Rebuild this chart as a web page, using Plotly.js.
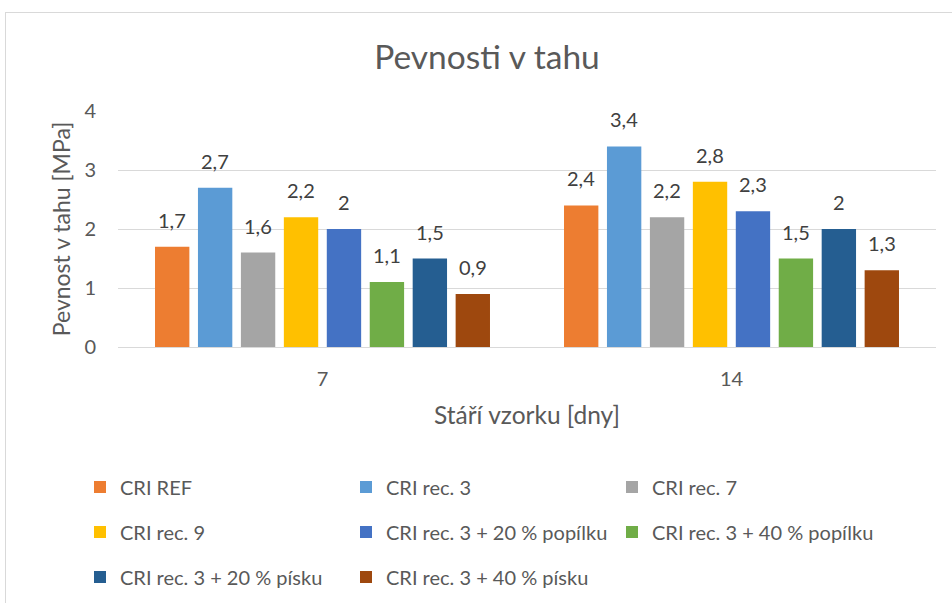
<!DOCTYPE html>
<html>
<head>
<meta charset="utf-8">
<script src="https://cdn.plot.ly/plotly-3.0.1.min.js"></script>
<style>
html,body{margin:0;padding:0;background:#fff;overflow:hidden;}
#wrap{position:relative;width:952px;height:603px;}
#chart{position:absolute;left:0;top:0;width:952px;height:603px;}
#frame{position:absolute;left:5px;top:12px;width:1000px;height:700px;border:1px solid #d9d9d9;pointer-events:none;}
</style>
</head>
<body>
<div id="wrap"><div id="chart"></div><div id="frame"></div></div>
<script>
const categories = ['7', '14'];
const seriesNames = ['CRI REF', 'CRI rec. 3', 'CRI rec. 7', 'CRI rec. 9',
  'CRI rec. 3 + 20 % popílku', 'CRI rec. 3 + 40 % popílku',
  'CRI rec. 3 + 20 % písku', 'CRI rec. 3 + 40 % písku'];
const criRef = [1.7, 2.4];
const criRec3 = [2.7, 3.4];
const criRec7 = [1.6, 2.2];
const criRec9 = [2.2, 2.8];
const rec3Popilek20 = [2.0, 2.3];
const rec3Popilek40 = [1.1, 1.5];
const rec3Pisek20 = [1.5, 2.0];
const rec3Pisek40 = [0.9, 1.3];
const yTicks = [0, 1, 2, 3, 4];

const seriesValues = [criRef, criRec3, criRec7, criRec9, rec3Popilek20, rec3Popilek40, rec3Pisek20, rec3Pisek40];
const colors = ['#ED7D31', '#5B9BD5', '#A5A5A5', '#FFC000', '#4472C4', '#70AD47', '#255E91', '#9E480E'];
const legendIds = ['legend', 'legend', 'legend', 'legend2', 'legend2', 'legend2', 'legend3', 'legend3'];
const FONT = 'Lato, "Open Sans", sans-serif';
const BARGAP = 0.16;

const traces = seriesValues.map((vals, i) => ({
  type: 'bar',
  name: seriesNames[i],
  x: categories,
  y: vals,
  marker: {color: colors[i], line: {width: 0}},
  legend: legendIds[i],
  hoverinfo: 'skip'
}));

// data labels as annotations placed through the axes' scales
const nSeries = seriesValues.length;
const slot = (1 - BARGAP) / nSeries;
const annotations = [];
seriesValues.forEach((vals, i) => {
  vals.forEach((v, c) => {
    annotations.push({
      xref: 'x', yref: 'y',
      x: c - (1 - BARGAP) / 2 + (i + 0.5) * slot,
      y: v,
      text: String(v).replace('.', ','),
      showarrow: false, xanchor: 'center', yanchor: 'bottom', yshift: 13,
      font: {family: FONT, size: 20, color: '#404040'}
    });
  });
});

const legendBase = {
  orientation: 'h', x: 80/952, xref: 'container', xanchor: 'left', yanchor: 'middle', yref: 'container',
  entrywidth: 221, entrywidthmode: 'pixels',
  font: {family: FONT, size: 20, color: '#595959'},
  bgcolor: 'rgba(0,0,0,0)', itemwidth: 30, traceorder: 'normal'
};

const layout = {
  width: 952, height: 603,
  paper_bgcolor: '#ffffff', plot_bgcolor: '#ffffff',
  margin: {l: 118, r: 16, t: 111, b: 256},
  font: {family: FONT, color: '#595959'},
  title: {text: 'Pevnosti v tahu', font: {family: FONT, size: 33.5, color: '#595959'},
          x: 487/952, xref: 'container', xanchor: 'center', y: 1 - 57/603, yanchor: 'middle', yref: 'container'},
  barmode: 'group', bargap: BARGAP, bargroupgap: 0.2,
  xaxis: {
    type: 'category', showgrid: false, zeroline: false, showline: false,
    ticks: 'outside', ticklen: 14, tickcolor: 'rgba(0,0,0,0)',
    tickfont: {family: FONT, size: 20, color: '#595959'},
    title: {text: 'Stáří vzorku [dny]', font: {family: FONT, size: 24.5, color: '#595959'}, standoff: 17}
  },
  yaxis: {
    range: [0, 4], tickvals: yTicks, ticktext: yTicks.map(String),
    showgrid: true, gridcolor: '#D9D9D9', gridwidth: 1,
    zeroline: true, zerolinecolor: '#D9D9D9', zerolinewidth: 1, showline: false,
    ticks: 'outside', ticklen: 17, tickcolor: 'rgba(0,0,0,0)',
    tickfont: {family: FONT, size: 20, color: '#595959'},
    title: {text: 'Pevnost v tahu [MPa]', font: {family: FONT, size: 23, color: '#595959'}, standoff: 7}
  },
  annotations: annotations,
  showlegend: true,
  legend: Object.assign({}, legendBase, {y: 1 - 487/603}),
  legend2: Object.assign({}, legendBase, {y: 1 - 532/603}),
  legend3: Object.assign({}, legendBase, {y: 1 - 577/603})
};

Plotly.newPlot('chart', traces, layout, {displayModeBar: false, staticPlot: true});
</script>
</body>
</html>
